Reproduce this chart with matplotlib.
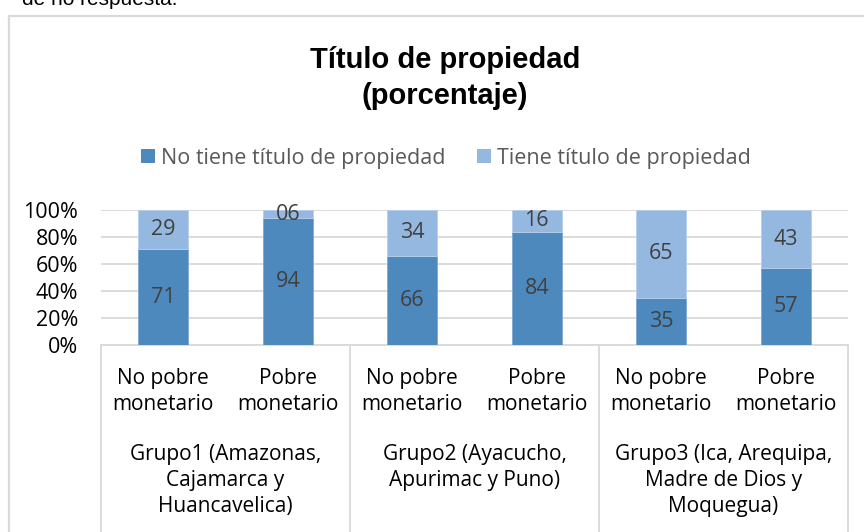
import matplotlib
matplotlib.use("Agg")
import matplotlib.pyplot as plt
from matplotlib.patches import Patch
from matplotlib.lines import Line2D
import numpy as np

grupos = ["Grupo1 (Amazonas,\nCajamarca y\nHuancavelica)",
          "Grupo2 (Ayacucho,\nApurimac y Puno)",
          "Grupo3 (Ica, Arequipa,\nMadre de Dios y\nMoquegua)"]
condicion = ["No pobre\nmonetario", "Pobre\nmonetario"]
no_tiene = [71, 94, 66, 84, 35, 57]
tiene = [29, 6, 34, 16, 65, 43]
series_names = ["No tiene título de propiedad", "Tiene título de propiedad"]

c_dark = "#4E89BE"
c_light = "#95B8E0"
grid_c = "#D9D9D9"
txt_c = "#404040"

label_font = ["Open Sans", "DejaVu Sans"]
title_font = ["Liberation Sans", "DejaVu Sans"]

W, H = 864, 532
fig = plt.figure(figsize=(W / 100, H / 100), dpi=100)

# document text cut off at the top and chart border
fig.text(22 / W, 1 - 5 / H, "de no respuesta.", fontsize=15, color="black",
         family=["Liberation Sans", "DejaVu Sans"], va="baseline")
fig.add_artist(Line2D([8.5 / W, 8.5 / W], [0, 1 - 15.5 / H], color=grid_c, lw=1.6))
fig.add_artist(Line2D([8.5 / W, 1], [1 - 15.5 / H, 1 - 15.5 / H], color=grid_c, lw=1.6))

ax = fig.add_axes([101 / W, 1 - 345 / H, 747 / W, 135 / H])
x = np.arange(len(no_tiene))
ax.bar(x, no_tiene, width=0.4, color=c_dark, edgecolor="#7FA9D3", linewidth=0.6, zorder=3)
ax.bar(x, tiene, width=0.4, bottom=no_tiene, color=c_light, edgecolor="#B8CFEA",
       linewidth=0.6, zorder=3)

for xi, a, b in zip(x, no_tiene, tiene):
    ax.text(xi, a / 2, f"{a:02d}", ha="center", va="center", fontsize=15.5,
            color=txt_c, family=label_font, zorder=4)
    ax.text(xi, a + b / 2, f"{b:02d}", ha="center", va="center", fontsize=15.5,
            color=txt_c, family=label_font, zorder=4)

ax.set_xlim(-0.5, 5.5)
ax.set_ylim(0, 100)
ax.set_yticks(range(0, 101, 20))
ax.set_yticklabels([f"{v}%" for v in range(0, 101, 20)])
ax.yaxis.grid(True, color=grid_c, lw=1.3, zorder=0)
ax.set_xticks([])
for s in ["top", "right", "left"]:
    ax.spines[s].set_visible(False)
ax.spines["bottom"].set_color(grid_c)
ax.spines["bottom"].set_linewidth(1.3)
ax.tick_params(axis="y", length=0, pad=16.5, labelsize=15.5, labelcolor="black")
for lab in ax.get_yticklabels():
    lab.set_family(label_font)

# multi-level category axis
trans = ax.get_xaxis_transform()
for sep in [-0.5, 1.5, 3.5, 5.5]:
    ax.plot([sep, sep], [0, -1.45], transform=trans, color=grid_c, lw=1.3, clip_on=False)
for xi in x:
    ax.annotate(condicion[xi % 2], xy=(xi, 0), xycoords=trans, xytext=(0, -23),
                textcoords="offset pixels", ha="center", va="top", fontsize=15,
                family=label_font, color="black", linespacing=1.3)
for g, name in enumerate(grupos):
    ax.annotate(name, xy=(2 * g + 0.5, 0), xycoords=trans, xytext=(0, -99),
                textcoords="offset pixels", ha="center", va="top", fontsize=15,
                family=label_font, color="black", linespacing=1.3)

fig.text(445 / W, 1 - 78 / H, "Título de propiedad\n(porcentaje)", ha="center",
         va="center", fontsize=21, fontweight="bold", family=title_font,
         linespacing=1.38)

handles = [Patch(facecolor=c_dark), Patch(facecolor=c_light)]
fig.legend(handles, series_names, loc="center", bbox_to_anchor=(446 / W, 1 - 158 / H),
           ncol=2, frameon=False, prop={"family": label_font, "size": 15.5},
           labelcolor="#595959", handlelength=0.65, handleheight=0.65,
           handletextpad=0.25, columnspacing=1.5)

fig.savefig("out.png", dpi=100)
